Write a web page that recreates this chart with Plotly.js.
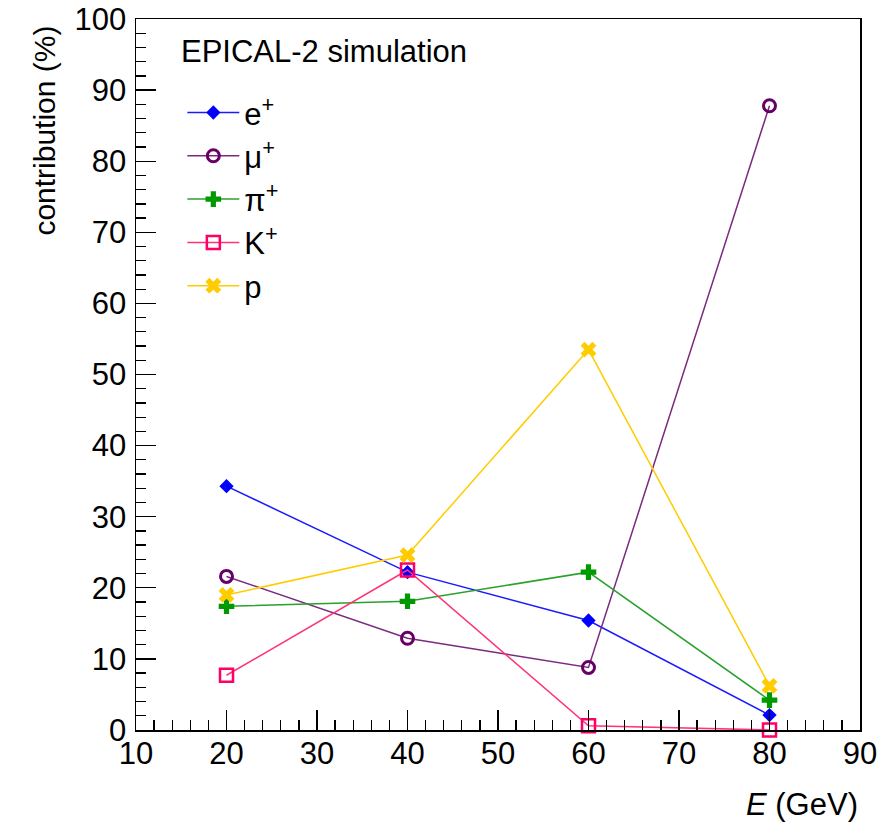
<!DOCTYPE html>
<html>
<head>
<meta charset="utf-8">
<script src="https://cdn.plot.ly/plotly-3.0.1.min.js"></script>
<style>html,body{margin:0;padding:0;background:#fff;}#chart{width:886px;height:823px;}</style>
</head>
<body>
<div id="chart"></div>
<script>
const energies = [20, 40, 60, 80];
const ePlus = [34.3, 22.2, 15.4, 2.1];
const muPlus = [21.6, 12.9, 8.8, 87.8];
const piPlus = [17.4, 18.1, 22.2, 4.2];
const kPlus = [7.7, 22.5, 0.6, 0.0];
const proton = [19.0, 24.6, 53.5, 6.2];

const seriesNames = ["e<sup>+</sup>", "μ<sup>+</sup>", "π<sup>+</sup>", "K<sup>+</sup>", "p"];
const FONT = "Liberation Sans, Arial, sans-serif";

function tr(y, name, lineColor, markerColor, symbol, size, lw) {
  return {
    x: energies, y: y, name: name, type: "scatter", mode: "lines+markers",
    cliponaxis: false,
    line: {color: lineColor, width: 1.5},
    marker: {color: markerColor, symbol: symbol, size: size, line: {color: markerColor, width: lw}}
  };
}

const data = [
  tr(ePlus, seriesNames[0], "#1a1aff", "#0000ff", "diamond", 11, 0),
  tr(muPlus, seriesNames[1], "#7a2a80", "#660066", "circle-open", 12, 3),
  tr(piPlus, seriesNames[2], "#2ca02c", "#009900", "cross", 13, 0),
  tr(kPlus, seriesNames[3], "#ff3377", "#ff0066", "square-open", 13, 2.5),
  tr(proton, seriesNames[4], "#ffcc00", "#ffcc00", "x", 14, 0)
];

const layout = {
  width: 886, height: 823,
  margin: {l: 136, r: 26, t: 19, b: 93},
  paper_bgcolor: "#fff", plot_bgcolor: "#fff",
  font: {family: FONT, color: "#000", size: 26},
  showlegend: true,
  legend: {
    x: 0.064, y: 0.906, xanchor: "left", yanchor: "top",
    bgcolor: "rgba(0,0,0,0)", borderwidth: 0,
    font: {family: FONT, size: 31, color: "#000"},
    tracegroupgap: 0, itemwidth: 52
  },
  xaxis: {
    range: [10, 90], dtick: 10, tick0: 10,
    ticks: "inside", ticklen: 20, tickwidth: 1.3, tickcolor: "#000",
    showgrid: false, zeroline: false,
    showline: true, linecolor: "#000", linewidth: 1.5, mirror: true,
    tickfont: {family: FONT, size: 31}, ticklabelstandoff: -5,
    minor: {dtick: 2, ticks: "inside", ticklen: 10, tickwidth: 1.3, tickcolor: "#000", showgrid: false}
  },
  yaxis: {
    range: [0, 100], dtick: 10, tick0: 0,
    ticks: "inside", ticklen: 20, tickwidth: 1.3, tickcolor: "#000",
    showgrid: false, zeroline: false,
    showline: true, linecolor: "#000", linewidth: 1.5, mirror: true,
    tickfont: {family: FONT, size: 31}, ticklabelstandoff: 2,
    minor: {dtick: 2, ticks: "inside", ticklen: 10, tickwidth: 1.3, tickcolor: "#000", showgrid: false}
  },
  annotations: [
    {text: "EPICAL-2 simulation", xref: "paper", yref: "paper", x: 0.06, y: 0.9536,
     xanchor: "left", yanchor: "middle", showarrow: false, font: {family: FONT, size: 31}},
    {text: "<i>E</i> (GeV)", xref: "paper", yref: "paper", x: 1.0, y: -0.105,
     xanchor: "right", yanchor: "middle", showarrow: false, font: {family: FONT, size: 31}},
    {text: "contribution (%)", xref: "paper", yref: "paper", x: -0.1257, y: 0.843,
     xanchor: "center", yanchor: "middle", textangle: -90, showarrow: false, font: {family: FONT, size: 30}}
  ]
};

Plotly.newPlot("chart", data, layout, {displayModeBar: false, staticPlot: true});
</script>
</body>
</html>
